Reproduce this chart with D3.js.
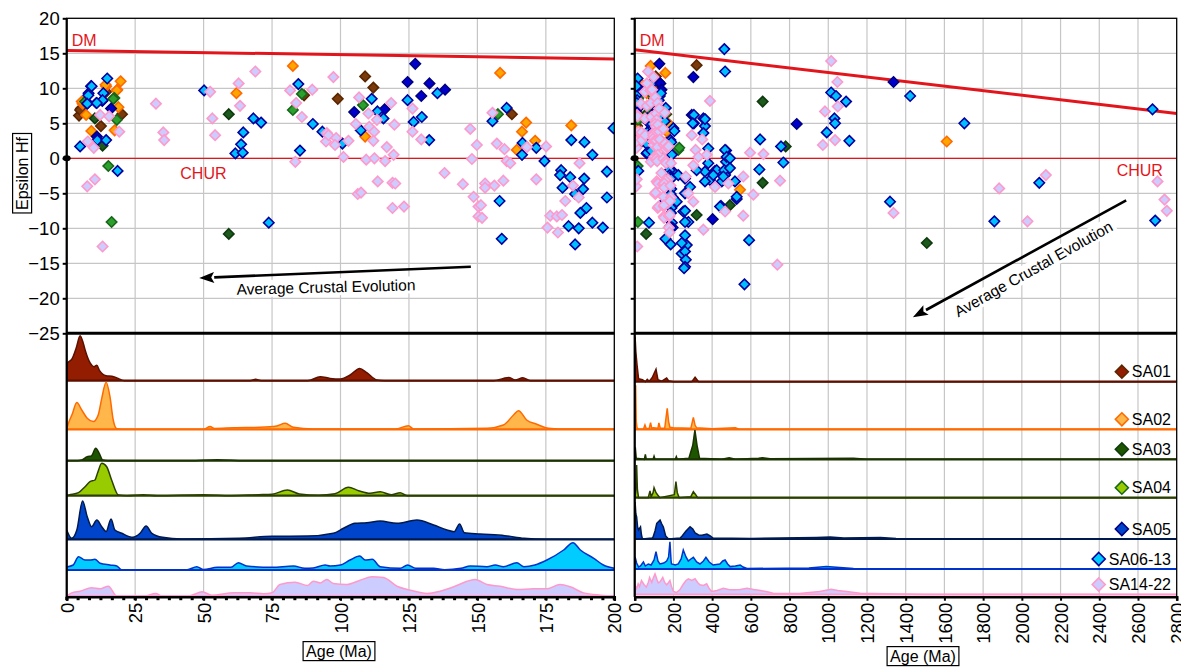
<!DOCTYPE html>
<html>
<head>
<meta charset="utf-8">
<script src="https://cdn.jsdelivr.net/npm/d3@7"></script>
<style>
  body { margin: 0; background: #fff; }
  svg { display: block; font-family: "Liberation Sans", Arial, sans-serif; }
</style>
</head>
<body>
<svg id="chart" width="1181" height="667"></svg>
<script>
// sample names, in drawing order
const samples = ["SA01", "SA02", "SA03", "SA04", "SA05", "SA06-13", "SA14-22"];

// [age (Ma), epsilon Hf] per sample
const sa01 = [[4.5,6.1],[5.2,7.1],[4.9,6.9],[12.5,4.6],[20.2,6.3],[14.4,9.5],[86.7,9.0],[99.0,8.5],[109.0,11.7],
  [112.0,10.1],[162.6,6.3],[320,13.3]];
const sa02 = [[9.0,3.9],[7.1,6.2],[17.5,4.0],[18.9,7.3],[5.8,7.8],[18.5,9.8],[19.7,11.0],[14.4,10.3],[18.3,9.7],
  [14.2,10.5],[5.5,8.1],[62.0,9.3],[82.6,13.2],[109.0,3.1],[167.8,5.1],[166.3,3.8],[171.1,2.5],[164.4,1.2],
  [184.3,4.7],[158.3,12.2],[544,-4.5],[1612,2.4]];
const sa03 = [[10.3,5.7],[13.1,1.8],[59.2,6.3],[59.2,-10.8],[320,-8.1],[492,-6.7],[661,8.1],[661,-3.5],[780,1.7],[1509,-12.1]];
const sa04 = [[17.4,8.6],[18.3,5.5],[15.2,-1.1],[16.4,-9.1],[6.7,8.1],[17.0,8.5],[82.6,6.9],[85.9,9.2],[108.2,7.6],
  [157.5,6.3],[225,1.2],[230,1.5]];
const sa05 = [[16.2,7.1],[11.0,3.1],[105.0,6.6],[116.1,7.0],[124.5,10.9],[127.3,13.5],[132.5,10.7],[129.5,8.9],
  [138.2,9.8],[303,11.6],[295,6.2],[403,-8.7],[837,4.9],[1337,10.9]];
const sa06 = [[14.8,11.4],[8.9,10.3],[8.0,9.3],[13.4,9.3],[7.7,7.9],[10.8,7.9],[13.0,8.2],[4.9,1.7],[11.2,2.6],
  [14.4,2.6],[7.9,9.0],[7.5,7.8],[13.1,8.3],[18.6,-1.8],[9.1,10.3],[11.0,7.9],
  [50.2,9.7],[64.5,3.7],[63.7,2.0],[61.6,0.7],[64.3,0.8],[68.2,5.7],[71.0,5.1],[73.8,-9.2],[84.6,10.6],[85.2,1.1],
  [89.9,4.9],[93.4,3.8],[100.7,2.1],[111.4,8.5],[107.4,4.0],[113.5,6.7],[115.7,5.7],[124.5,8.3],[126.7,5.2],
  [129.7,5.9],[132.4,2.6],[135.4,9.3],
  [160.7,7.2],[155.5,5.3],[166.5,2.2],[166.3,0.5],[171.5,1.5],[174.5,-0.4],[158.1,-6.1],[158.9,-11.5],[184.3,2.6],
  [189.1,2.3],[192.0,0.5],[199.7,4.3],[197.3,-1.9],[197.3,-5.6],[180.6,-1.7],[180.2,-2.4],[183.9,-2.7],[189.0,-2.9],
  [181.1,-4.2],[188.6,-4.4],[185.7,-5.1],[189.8,-7.1],[187.6,-7.8],[192.0,-9.2],[195.8,-9.9],[183.3,-9.7],
  [187.0,-10.0],[185.7,-12.3],
  [463,15.6],[467,12.4],[355,5.7],[306,5.0],[363,4.6],[355,3.6],[306,6.2],[363,5.6],[300,5.0],[205,3.9],[380,1.4],
  [472,1.1],[472,-0.5],[415,-1.8],[467,-2.4],[363,-1.9],[389,-3.1],[450,-3.3],[527,-5.8],[446,-6.8],
  [467,1.2],[475,0.2],[492,0],[424,-1.7],[463,-1.7],[492,-1.4],[406,-2.4],[363,-3.3],[458,-2.6],[518,-3.3],
  [527,-5.5],[441,-6.9],[380,-0.7],[320,-1.7],[260,-2.9],[286,-4.1],[225,-2.4],[260,-5.0],[217,-6.2],[251,-7.6],
  [260,-7.5],[277,-9.1],[260,-9.1],[260,-11.0],[269,-12.4],[243,-12.1],[243,-13.6],[260,-13.3],[264,-14.5],
  [260,-15.5],[255,-15.7],
  [648,2.7],[756,1.7],[768,-0.6],[644,-1.6],[591,-11.7],[567,-18.0],[1015,9.4],[1040,8.9],[1092,8.1],[1032,5.7],
  [1035,5.0],[992,3.7],[1109,2.5],[1423,8.9],[1319,-6.2],[1703,5.0],[2090,-3.5],[1858,-9.0],[2675,7.0],[2689,-8.9]];
const sa14 = [[7.5,-4.0],[10.3,-3.0],[13.1,-12.6],[9.9,1.5],[7.7,2.4],[12.2,6.2],[15.5,6.0],[19.2,3.8],[32.6,7.8],
  [35.3,3.7],[35.6,2.6],[52.4,9.5],[53.2,5.7],[54.2,3.3],[62.8,10.7],[63.3,7.5],[68.9,12.4],[81.6,9.7],[83.8,7.9],
  [85.9,5.9],[83.5,-0.5],[89.7,9.8],[95.0,3.6],[94.7,2.4],[97.4,11.6],[95.6,3.3],[98.4,2.9],[98.0,1.9],[102.9,2.5],
  [101.1,0.2],[106.8,8.7],[118.5,7.9],[110.2,6.4],[113.3,5.5],[105.6,4.9],[110.5,4.5],[112.3,3.8],[112.0,2.5],
  [119.7,4.8],[116.9,1.6],[119.4,0.5],[109.4,-0.2],[112.4,0.0],[116.3,-0.4],[113.6,-3.3],[119.0,-3.5],[120.0,-3.6],
  [106.3,-5.1],[107.5,-4.9],[119.0,-7.1],[123.2,-6.9],[126.3,7.1],[126.3,3.8],[129.5,2.7],[138.0,-2.1],[144.7,-3.7],
  [147.4,4.2],[149.8,1.9],[148.0,-0.1],[148.6,-5.5],[150.4,-6.9],[150.4,-8.3],[157.1,2.1],[159.9,1.3],[160.7,-0.4],
  [162.0,-0.7],[168.1,1.6],[175.1,1.7],[171.5,-3.0],[159.5,-3.2],[156.2,-3.9],[152.8,-3.6],[152.8,-4.2],[151.3,-6.7],
  [151.7,-8.5],[155.5,6.5],[187.3,-0.7],[184.9,-3.9],[187.0,-5.6],[182.1,-6.1],[176.6,-8.2],[179.0,-8.3],
  [180.9,-8.1],[175.6,-9.9],[179.4,-10.6],
  [389,8.2],[295,3.3],[349,2.7],[315,1.2],[329,0.2],[372,0.5],[264,-2.6],[303,-1.0],[415,-4.1],[484,-3.6],
  [561,-2.6],[613,-5.2],[355,-10.2],[596,0.8],[665,0.6],[467,-7.6],[277,-5.0],[303,-6.2],[751,-3.2],[561,-8.2],
  [737,-15.2],[1015,13.9],[1047,10.9],[1049,7.4],[983,6.7],[972,1.9],[1035,2.6],[1337,-7.8],[2124,-2.4],
  [1883,-4.3],[2029,-9.0],[2701,-3.3],[2737,-5.9],[2749,-7.5]];
const points = [sa01, sa02, sa03, sa04, sa05, sa06, sa14];

// probability density curves, [age (Ma), relative density], 0-200 Ma window
const kdeLeft = [
  [[0,0],[0.1,17],[2,22],[3.5,33],[4.9,45],[6,38],[6.7,31],[8.5,18],[10,14],[11,15.5],[12,10],[14.4,5],[16.5,4.5],[18.8,2.3],[21,0],
   [67,0],[69,1.4],[71,0],[88,0],[92.6,4],[96.2,2.3],[100,1.7],[103.5,5.7],[107,12.3],[109.6,8],[113.3,0.7],[116,0],
   [156,0],[159.5,2.3],[161.4,3.3],[163.8,0.7],[166.6,3],[169.3,0],[200,0]],
  [[0,0],[0.5,5],[2,15],[3.7,26.7],[5.5,19.3],[7.5,11],[9.7,7.7],[11.5,14.3],[12.8,31],[14.4,47],[15.8,32.7],[17,9.3],
   [18.3,0.5],[20,0],[50,0],[52.4,2.7],[54,0.8],[61,1.5],[70.6,2],[76.7,3.3],[79.8,6],[82.8,2],[90,0.3],[120,0.3],
   [124.8,3.6],[126.7,0.3],[153.5,1],[159.5,4.3],[163.2,14.3],[165,18.6],[168,9.3],[171.7,5],[176,1],[180,0.3],[200,0.3]],
  [[0,0],[4,0],[5.5,0.7],[7.5,4],[9,4.7],[10.6,12.4],[11.9,7.4],[13.1,0.7],[15,0],[45,0],[55,1],[65,0],[200,0]],
  [[0,0],[0.9,0.7],[4.3,3],[6.7,9],[8.5,14],[10.3,15.7],[11.3,23],[12.8,32.4],[14.6,29],[16.4,15.7],[18.9,0.7],[22,0],
   [28,1],[33,0],[50,1],[60,0],[70,1],[75,1.5],[80.6,5.7],[85,1.7],[92,0.5],[98,2],[102.9,8.4],[106.6,5],[110.8,2.4],
   [114.5,4],[118.5,1],[121.8,3],[124.3,0],[200,0]],
  [[0,9.3],[1.8,1],[3.7,9.3],[5.8,38.3],[7.5,22.6],[9.1,12.6],[11,19.3],[12.8,12.6],[14.4,7.7],[16.2,20.3],[17.6,9.3],
   [20.1,6],[24.1,2],[26.8,6],[29,13.3],[31.1,6],[35,2],[42,0.3],[63,1],[75,3],[88,3.2],[97.4,6],[101.1,11],[105.3,16],
   [109.6,16.6],[114.5,18.3],[120.6,16],[127.9,19.3],[134,14.3],[138.9,9.3],[141.5,7.6],[143.5,15.3],[145.2,6.6],
   [151,5.3],[160,3.6],[167,1],[175,0],[200,0]],
  [[0,3],[2.4,5],[4.3,13.3],[6.7,10],[8.5,10],[10.3,10.7],[12.2,6.7],[15.8,5],[18.3,4],[20,0.3],[44,0.3],[47.5,3.3],
   [50,0.5],[55,2.7],[60,2.7],[62.7,7.3],[65.7,4],[75,2.7],[82.8,4],[87,1.7],[90,2],[94.4,5],[96.2,4],[100,5],[103.5,10],
   [107,14],[109,10],[111.6,10.7],[114.5,3.3],[121.8,1.7],[124.5,5],[127.5,1.7],[134,1.7],[138,0.3],[144,1.7],
   [147.4,4],[153.5,3.3],[156.5,5],[159.5,3.3],[164.4,7.3],[167,3.3],[171,5],[175.4,10],[181.5,20],[184.9,27.3],
   [187.6,20],[192.5,11.7],[196,5],[200,1.7]],
  [[0,0],[1.8,3.3],[4.9,5],[9.1,8.4],[12.2,7.4],[15.2,10],[18.3,0],[28,0],[32.5,2.7],[35,0],[45,0.5],[49.5,4.4],[53,1],
   [61,3.4],[67,3.4],[72,2.5],[75,3.4],[77.9,11.7],[83.4,14],[88,10.7],[90.1,15],[92.6,13.3],[95,16.7],[97.4,12.7],
   [102.3,11.7],[107.2,16],[111.5,19.4],[115.7,18.7],[120.6,10],[125.5,6],[131.6,2.7],[136.4,5],[142.5,10.7],
   [146.2,15],[149.2,16.7],[153.5,11.7],[158.3,10],[164.4,6.7],[170.5,7.4],[175.4,7.4],[180.2,11.7],[183.9,9.4],
   [188.8,3.3],[195,1],[200,0]]
];

// same curves over the full 0-2800 Ma range
const kdeRight = [
  [[0,0],[2,45],[6,30],[13,15],[20,3],[40,2],[55,0],[65,2.4],[75,0.5],[90,4],[110,12.4],[120,2],[140,0.5],[165,3.6],
   [175,1],[200,0],[295,0],[312,4.4],[330,0],[2800,0]],
  [[0,0],[3,2],[5,44],[8,8],[12,1.5],[20,0],[45,0],[53,4.3],[60,0.5],[75,1],[82,6.7],[88,1],[95,1.5],[120,1],[125,6.4],
   [132,1],[155,1],[168,21],[175,8],[182,2],[200,1.5],[290,1],[303,12],[312,4],[320,1.5],[400,0.5],[520,1.5],[540,0],[2800,0]],
  [[0,0],[3,12],[8,1],[50,0],[55,5],[60,0],[95,0],[100,3],[105,0],[210,0],[215,2.7],[220,0],[280,1],[300,14],[311,29.3],
   [322,14],[335,1],[450,0],[488,1.5],[520,0],[640,1],[660,1.5],[700,0.5],[1130,1],[1200,0],[2800,0]],
  [[0,0],[5,5],[10,32.7],[14,8],[20,0],[70,0],[79,6.7],[85,1],[95,5],[100,10],[110,5],[120,2.4],[130,0],[205,3],
   [213,16],[220,5],[230,0],[290,1],[303,6],[315,3],[325,0],[2800,0]],
  [[0,0],[2,37],[6,25],[10,22],[15,12],[20,9],[30,12],[35,4],[40,0],[90,1],[95,2],[105,8],[114,15.7],[131,19],[140,15],
   [148,12],[160,3],[175,0],[235,1],[245,3],[265,8],[286,12.3],[300,10],[312,6],[330,4],[348,3.7],[373,5],[390,3],
   [405,1],[600,0.5],[940,1.5],[1010,2],[1080,1],[1270,1.5],[1350,0.5],[2800,0]],
  [[0,0],[2,12],[10,6],[20,2],[30,3],[45,7],[55,3],[70,5],[85,4],[100,9],[110,17.3],[120,8],[130,5],[150,6],[165,8],
   [175,12],[182,27.3],[188,8],[190,5],[210,4],[225,5],[240,10],[251,19],[265,12],[277,8],[290,10],[303,11.7],[320,7],
   [337,5],[355,8],[368,11.7],[385,7],[405,4],[440,5],[455,8],[467,9],[480,5],[493,2.4],[520,3],[545,4],[560,2],
   [580,0.5],[900,1],[990,2.4],[1060,1.5],[1130,0.5],[1300,0],[2800,0]],
  [[0,0],[2,9],[10,6],[18,10.7],[25,8],[35,14],[48,10],[60,7.3],[70,12],[77,17],[88,12],[95,16],[105,20.7],[115,15],
   [122,11.7],[132,13],[145,17],[155,12],[165,9.7],[175,12],[182,14],[190,8],[200,3],[215,2],[233,4.7],[250,10],
   [265,14],[277,15.7],[295,14],[312,15.7],[325,12],[337,9.7],[355,9],[372,10.7],[385,6],[398,3],[425,4],[458,6.3],
   [485,5],[510,4.7],[545,5],[580,6.3],[615,5],[650,4],[690,2.5],[715,1.3],[850,1],[955,3],[1015,5.3],[1050,4],
   [1095,3],[1165,1.3],[1300,0.7],[1500,0],[2800,0]]
];

// reference lines (depleted mantle) and tick labels
const dmLeft = [[0, 15.4], [200, 14.2]];
const dmRight = [[0, 15.5], [2800, 6.4]];
const leftAgeTicks = d3.range(0, 201, 25);
const rightAgeTicks = d3.range(0, 2801, 200);
const ehfTicks = d3.range(-25, 21, 5);

// arrow annotations in data units
const arrows = [
  { panel: 0, from: [147.6, -15.5], to: [48.4, -17.1], at: [94.7, -18.4], angle: -1.4 },
  { panel: 1, from: [2539, -6.0], to: [1437, -22.7], at: [2060, -15.8], angle: -29.4 }
];

// colours
const dotFill   = ["#7a3a0c", "#ffa500", "#1d5a1d", "#2ca02c", "#0000cc", "#00bfff", "#ccccff"];
const dotStroke = ["#5a2600", "#ff6a00", "#0e3a0e", "#17661a", "#000080", "#00009e", "#ff99cc"];
const kdeFill   = ["#931d00", "#ffb64a", "#1e5500", "#99cc00", "#0044cc", "#00ccff", "#ccccff"];
const kdeStroke = ["#5c1000", "#ff6a00", "#1a3300", "#2b4000", "#001a4d", "#0033cc", "#ff99cc"];
const red = "#e3151c";

const svg = d3.select("#chart");
const y = d3.scaleLinear([-25, 20], [333.3, 18.3]);
const dens = d3.scaleLinear([0, 50], [0, 50]);
const plotTop = 18.3, plotBottom = 596.7;
const tickFont = 18.5;

const panels = [
  { x: d3.scaleLinear([0, 200], [66.7, 614.3]), ticks: leftAgeTicks, kde: kdeLeft, dm: dmLeft,
    base: [380.7, 429.3, 460.7, 495.7, 539.3, 570, 596.2], minor: 25 / 6, curve: d3.curveMonotoneX },
  { x: d3.scaleLinear([0, 2800], [634.7, 1176.7]), ticks: rightAgeTicks, kde: kdeRight, dm: dmRight,
    base: [381.7, 429.3, 459.3, 497.7, 539, 569, 594.5], minor: null, curve: d3.curveLinear }
];

const diamond = s => `M0,${-s}L${s},0L0,${s}L${-s},0Z`;

panels.forEach((p, pi) => {
  const x = p.x, [x0, x1] = x.range();
  const g = svg.append("g");

  g.append("clipPath").attr("id", "clip" + pi)
    .append("rect").attr("x", x0).attr("y", plotTop).attr("width", x1 - x0).attr("height", y(-25) - plotTop);
  g.append("clipPath").attr("id", "kclip" + pi)
    .append("rect").attr("x", x0).attr("y", y(-25)).attr("width", x1 - x0).attr("height", plotBottom - y(-25));

  // grid
  g.append("g").selectAll("line").data(p.ticks.slice(1, -1)).join("line")
    .attr("x1", d => x(d)).attr("x2", d => x(d)).attr("y1", plotTop).attr("y2", plotBottom)
    .attr("stroke", "#c6c6c6").attr("stroke-width", 1.2);
  g.append("g").selectAll("line").data(ehfTicks.slice(1, -1)).join("line")
    .attr("x1", x0).attr("x2", x1).attr("y1", d => y(d)).attr("y2", d => y(d))
    .attr("stroke", "#c6c6c6").attr("stroke-width", 1.2);

  // density curves
  const kg = g.append("g").attr("clip-path", `url(#kclip${pi})`);
  p.kde.forEach((k, i) => {
    const b = p.base[i];
    kg.append("path").datum(k)
      .attr("d", d3.area().curve(p.curve).x(d => x(d[0])).y0(b).y1(d => b - dens(d[1])))
      .attr("fill", kdeFill[i]);
    kg.append("path").datum(k)
      .attr("d", d3.line().curve(p.curve).x(d => x(d[0])).y(d => b - dens(d[1])))
      .attr("fill", "none").attr("stroke", kdeStroke[i]).attr("stroke-width", 1.5);
    kg.append("line").attr("x1", x0).attr("x2", x1).attr("y1", b).attr("y2", b)
      .attr("stroke", kdeStroke[i]).attr("stroke-width", 2.2);
  });

  // DM and CHUR reference lines
  const sg = g.append("g").attr("clip-path", `url(#clip${pi})`);
  sg.append("path").datum(p.dm)
    .attr("d", d3.line().x(d => x(d[0])).y(d => y(d[1])))
    .attr("stroke", red).attr("stroke-width", 3).attr("fill", "none");
  sg.append("line").attr("x1", x0).attr("x2", x1).attr("y1", y(0)).attr("y2", y(0))
    .attr("stroke", red).attr("stroke-width", 1.3);

  // arrows + labels
  arrows.filter(a => a.panel === pi).forEach(a => {
    const fx = x(a.from[0]), fy = y(a.from[1]), tx = x(a.to[0]), ty = y(a.to[1]);
    const ang = Math.atan2(ty - fy, tx - fx);
    const hl = 15, hw = 5.5;
    const bx = tx - hl * Math.cos(ang), by = ty - hl * Math.sin(ang);
    sg.append("line").attr("x1", fx).attr("y1", fy).attr("x2", bx).attr("y2", by)
      .attr("stroke", "#000").attr("stroke-width", 2.6);
    sg.append("path")
      .attr("d", `M${tx},${ty}L${bx - hw * Math.sin(ang)},${by + hw * Math.cos(ang)}L${bx + 3 * Math.cos(ang)},${by + 3 * Math.sin(ang)}L${bx + hw * Math.sin(ang)},${by - hw * Math.cos(ang)}Z`)
      .attr("fill", "#000");
    const lg = sg.append("g").attr("transform", `translate(${x(a.at[0])},${y(a.at[1])}) rotate(${a.angle})`);
    const t = lg.append("text").attr("text-anchor", "middle").attr("dy", "0.35em")
      .attr("font-size", 15.5).attr("fill", "#000").text("Average Crustal Evolution");
    const bb = t.node().getBBox();
    lg.insert("rect", "text").attr("x", bb.x - 3).attr("y", bb.y).attr("width", bb.width + 6)
      .attr("height", bb.height).attr("fill", "#fff");
  });

  // Hf data points
  points.forEach((pts, i) => {
    sg.append("g").selectAll("path")
      .data(pts.filter(d => d[0] <= x.domain()[1]))
      .join("path")
      .attr("transform", d => `translate(${x(d[0])},${y(d[1])})`)
      .attr("d", diamond(5.2))
      .attr("fill", dotFill[i]).attr("stroke", dotStroke[i]).attr("stroke-width", 1.6);
  });

  // DM / CHUR labels
  g.append("text").attr("x", x0 + 5).attr("y", 46).attr("fill", red).attr("font-size", 16).text("DM");
  g.append("text").attr("x", pi === 0 ? x(41.5) : x(2490)).attr("y", pi === 0 ? 179 : 176)
    .attr("fill", red).attr("font-size", 16).text("CHUR");

  // frame
  g.append("rect").attr("x", x0).attr("y", plotTop).attr("width", x1 - x0).attr("height", plotBottom - plotTop)
    .attr("fill", "none").attr("stroke", "#000").attr("stroke-width", 1.3);
  g.append("line").attr("x1", x0).attr("x2", x1).attr("y1", y(-25)).attr("y2", y(-25))
    .attr("stroke", "#000").attr("stroke-width", 3);
  g.append("line").attr("x1", x0).attr("x2", x0).attr("y1", plotTop).attr("y2", plotBottom)
    .attr("stroke", "#000").attr("stroke-width", 2.2);
  g.append("ellipse").attr("cx", x0).attr("cy", y(0)).attr("rx", 4).attr("ry", 3).attr("fill", "#000");

  // y axis
  const ya = g.append("g").attr("transform", `translate(${x0},0)`)
    .call(d3.axisLeft(y).tickValues(ehfTicks).tickSize(4).tickPadding(3));
  ya.select(".domain").remove();
  ya.selectAll(".tick line").attr("stroke-width", 2);
  ya.selectAll("text").attr("font-size", tickFont).attr("font-family", "Liberation Sans, Arial, sans-serif").attr("fill", "#000");
  if (pi === 1) ya.selectAll("text").remove();

  // x axis
  const xa = g.append("g").attr("transform", `translate(0,${plotBottom})`)
    .call(d3.axisBottom(x).tickValues(p.ticks).tickFormat(d3.format("d")).tickSize(4).tickPadding(0));
  xa.select(".domain").attr("stroke-width", 2.5);
  xa.selectAll(".tick line").attr("stroke-width", 2);
  xa.selectAll("text")
    .attr("transform", "rotate(-90)").attr("x", -6).attr("y", 0).attr("dy", "0.36em")
    .attr("text-anchor", "end").attr("font-size", tickFont)
    .attr("font-family", "Liberation Sans, Arial, sans-serif").attr("fill", "#000");
  if (p.minor) {
    g.append("g").selectAll("rect").data(d3.range(0, 200.01, p.minor)).join("rect")
      .attr("x", d => x(d) - 1.5).attr("y", plotBottom).attr("width", 3).attr("height", 3.5).attr("fill", "#000");
  }
});

// boxed axis titles
function boxedText(cx, cy, label, rot) {
  const g = svg.append("g").attr("transform", `translate(${cx},${cy}) rotate(${rot})`);
  const t = g.append("text").attr("text-anchor", "middle").attr("dy", "0.35em")
    .attr("font-size", 16).attr("fill", "#000").text(label);
  const bb = t.node().getBBox();
  g.insert("rect", "text").attr("x", bb.x - 3).attr("y", bb.y - 1).attr("width", bb.width + 6)
    .attr("height", bb.height + 2).attr("fill", "#fff").attr("stroke", "#000").attr("stroke-width", 1.2);
}
boxedText(22, 173.5, "Epsilon Hf", -90);
boxedText(339, 651, "Age (Ma)", 0);
boxedText(923, 656, "Age (Ma)", 0);

// legend
const legendRight = 1171;
const leg = svg.append("g");
panels[1].base.forEach((b, i) => {
  const t = leg.append("text").attr("x", legendRight).attr("y", b - 10).attr("dy", "0.35em")
    .attr("text-anchor", "end").attr("font-size", 16).attr("fill", "#000").text(samples[i]);
  const w = t.node().getComputedTextLength();
  leg.append("path").attr("transform", `translate(${legendRight - w - 10},${b - 10})`)
    .attr("d", diamond(6.5)).attr("fill", kdeFill[i]).attr("stroke", dotStroke[i]).attr("stroke-width", 1.6);
});
</script>
</body>
</html>
